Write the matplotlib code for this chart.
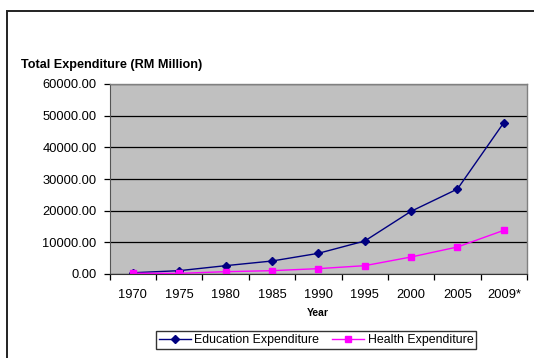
import matplotlib
matplotlib.use("Agg")
import matplotlib.pyplot as plt
import numpy as np
from matplotlib.patches import Rectangle

plt.rcParams['font.family'] = ['Liberation Sans', 'DejaVu Sans']

years = ["1970", "1975", "1980", "1985", "1990", "1995", "2000", "2005", "2009*"]
education = [400, 1050, 2630, 4100, 6530, 10420, 19800, 26840, 47800]
health = [250, 200, 730, 1050, 1690, 2630, 5370, 8530, 13790]
yticks = [0, 10000, 20000, 30000, 40000, 50000, 60000]

W, H = 534, 358
fig = plt.figure(figsize=(W/100, H/100), dpi=100)
fig.patch.set_facecolor('white')

# outer chart frame
fig.patches.append(Rectangle((7/W, -0.05), 1.0, 1 - 11/H + 0.05, transform=fig.transFigure,
                             fill=False, edgecolor='#222222', linewidth=1.4))

ax = fig.add_axes([109.7/W, (H-274)/H, (527-109.7)/W, (274-84)/H])
ax.set_facecolor('#C0C0C0')

x = np.arange(len(years))
ax.plot(x, education, color='#000080', marker='D', markersize=4.5, linewidth=1,
        label='Education Expenditure')
ax.plot(x, health, color='#FF00FF', marker='s', markersize=5, linewidth=1,
        label='Health Expenditure')

ax.set_xlim(-0.5, len(years) - 0.5)
ax.set_ylim(0, 60000)
ax.set_yticks(yticks)
ax.set_yticklabels([f"{v:.2f}" for v in yticks], fontsize=9.3)
ax.yaxis.grid(True, color='black', linewidth=0.9)
ax.set_axisbelow(True)

ax.set_xticks(x)
ax.set_xticklabels(years, fontsize=9.3)
ax.tick_params(axis='x', which='major', length=0, pad=11)
ax.set_xticks(np.arange(-0.5, len(years)), minor=True)
ax.tick_params(axis='x', which='minor', length=4, width=0.9, color='black', direction='out')
ax.tick_params(axis='y', length=4, width=0.9, color='black', direction='out', pad=5.5)

for s in ['top', 'right']:
    ax.spines[s].set_color('#808080')
    ax.spines[s].set_linewidth(1)
ax.spines['left'].set_color('#555555')
ax.spines['bottom'].set_color('#333333')

fig.text(21/W, 1 - 65/H, "Total Expenditure (RM Million)", fontsize=9.1, fontweight='bold',
         va='center', ha='left')
fig.text(318/W, 1 - 313/H, "Year", fontsize=7.5, fontweight='bold', va='center', ha='center')

leg = fig.legend(loc='center', bbox_to_anchor=(316/W, 1 - 340/H), ncol=2, fontsize=8.9,
                 frameon=True, fancybox=False, edgecolor='black', handlelength=2.6,
                 columnspacing=1.0, borderpad=0.25, handletextpad=0.3)
leg.get_frame().set_linewidth(1)

fig.savefig("out.png", dpi=100)
